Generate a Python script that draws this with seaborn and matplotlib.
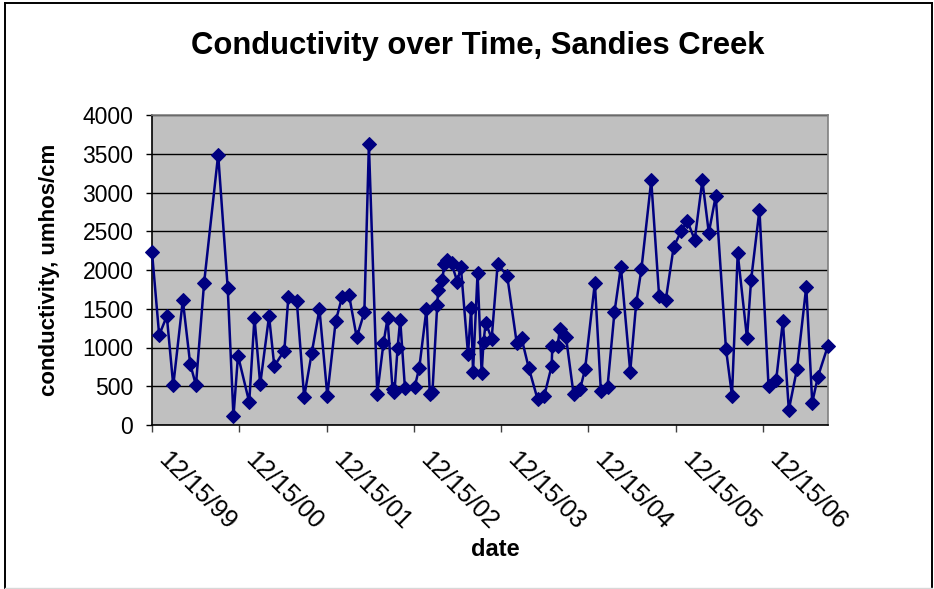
import matplotlib
matplotlib.use("Agg")
import matplotlib.pyplot as plt
import matplotlib.dates as mdates
from matplotlib.transforms import ScaledTranslation
from matplotlib.lines import Line2D
import pandas as pd
import seaborn as sns

# Sampling dates and measured conductivity (umhos/cm)
sample_dates = [
    "1999-12-15", "2000-01-14", "2000-02-15", "2000-03-13", "2000-04-22", "2000-05-23",
    "2000-06-16", "2000-07-20", "2000-09-17", "2000-10-27", "2000-11-20", "2000-12-09",
    "2001-01-25", "2001-02-16", "2001-03-12", "2001-04-18", "2001-05-10", "2001-06-21",
    "2001-07-08", "2001-08-12", "2001-09-12", "2001-10-14", "2001-11-15", "2001-12-18",
    "2002-01-22", "2002-02-18", "2002-03-19", "2002-04-20", "2002-05-22", "2002-06-10",
    "2002-07-15", "2002-08-10", "2002-08-27", "2002-09-17", "2002-09-25", "2002-10-08",
    "2002-10-19", "2002-11-08", "2002-12-19", "2003-01-07", "2003-02-06", "2003-02-20",
    "2003-03-03", "2003-03-23", "2003-03-27", "2003-04-14", "2003-04-21", "2003-05-05",
    "2003-05-22", "2003-06-15", "2003-06-30", "2003-07-30", "2003-08-12", "2003-08-20",
    "2003-09-08", "2003-09-25", "2003-10-03", "2003-10-12", "2003-11-06", "2003-12-01",
    "2004-01-10", "2004-02-19", "2004-03-10", "2004-04-09", "2004-05-16", "2004-06-13",
    "2004-07-14", "2004-07-17", "2004-08-08", "2004-08-18", "2004-09-12", "2004-10-14",
    "2004-11-10", "2004-12-01", "2005-01-11", "2005-02-05", "2005-03-05", "2005-04-03",
    "2005-04-30", "2005-06-08", "2005-07-03", "2005-07-25", "2005-09-04", "2005-10-07",
    "2005-11-04", "2005-12-07", "2006-01-08", "2006-02-02", "2006-03-05", "2006-04-06",
    "2006-05-03", "2006-06-01", "2006-07-14", "2006-08-08", "2006-09-01", "2006-10-10",
    "2006-10-27", "2006-12-01", "2007-01-08", "2007-02-09", "2007-03-09", "2007-04-03",
    "2007-05-07", "2007-06-15", "2007-07-10", "2007-08-03", "2007-09-14",
]
conductivity = [
    2230, 1160, 1405, 510, 1610, 785,
    515, 1830, 3490, 1765, 110, 895,
    295, 1385, 525, 1405, 760, 960,
    1655, 1605, 360, 935, 1495, 380,
    1340, 1655, 1675, 1130, 1455, 3620,
    405, 1055, 1375, 460, 425, 990,
    1360, 475, 495, 740, 1495, 395,
    425, 1545, 1740, 1870, 2075, 2125,
    2085, 1850, 2040, 915, 1510, 690,
    1965, 665, 1075, 1320, 1115, 2075,
    1925, 1055, 1120, 740, 335, 375,
    760, 1025, 1025, 1245, 1140, 395,
    460, 720, 1835, 445, 495, 1455,
    2040, 690, 1570, 2015, 3155, 1665,
    1615, 2300, 2505, 2635, 2390, 3155,
    2480, 2955, 980, 380, 2215, 1120,
    1870, 2775, 505, 580, 1340, 195,
    720, 1785, 290, 625, 1025,
]
tick_dates = ["1999-12-15", "2000-12-15", "2001-12-15", "2002-12-15",
              "2003-12-15", "2004-12-15", "2005-12-15", "2006-12-15"]
y_ticks = [0, 500, 1000, 1500, 2000, 2500, 3000, 3500, 4000]

title = "Conductivity over Time, Sandies Creek"
x_title = "date"
y_title = "conductivity, umhos/cm"

df = pd.DataFrame({"date": pd.to_datetime(sample_dates), "conductivity": conductivity})

plt.rcParams["font.family"] = ["Liberation Sans", "DejaVu Sans"]

W, H = 934, 589
fig = plt.figure(figsize=(W / 100, H / 100), dpi=100)
fig.patch.set_facecolor("white")

# outer chart frame: dark on left, top and right, faint along the bottom
def frame_line(xs, ys, color, lw):
    fig.lines.append(Line2D([x / W for x in xs], [1 - y / H for y in ys],
                            transform=fig.transFigure, color=color, linewidth=lw))

frame_line([5, 5], [588, 2.5], "black", 1.4)
frame_line([5, 931.5], [2.5, 2.5], "black", 1.4)
frame_line([931.5, 931.5], [2.5, 588], "black", 1.4)
frame_line([5, 931.5], [588, 588], "#d8d8d8", 1.0)

ax = fig.add_axes([152 / W, (H - 425) / H, 676 / W, 310 / H])
ax.set_facecolor("#C0C0C0")

navy = "#000080"
sns.lineplot(data=df, x="date", y="conductivity", ax=ax, color=navy, linewidth=1.8,
             marker="D", markersize=7.3, markeredgecolor=navy, markerfacecolor=navy,
             estimator=None, sort=False, clip_on=False, zorder=5)

ax.set_xlim(df["date"].iloc[0], df["date"].iloc[-1])
ax.set_ylim(0, 4000)
ax.set_yticks(y_ticks)
ax.set_xticks(pd.to_datetime(tick_dates))
ax.xaxis.set_major_formatter(mdates.DateFormatter("%m/%d/%y"))

ax.set_axisbelow(True)
ax.yaxis.grid(True, color="black", linewidth=1.0)
ax.xaxis.grid(False)

for side in ("top", "right"):
    ax.spines[side].set_color("#808080")
    ax.spines[side].set_linewidth(1.2)
for side in ("left", "bottom"):
    ax.spines[side].set_color("black")
    ax.spines[side].set_linewidth(1.2)

ax.tick_params(axis="y", direction="out", length=4.5, width=1, color="black",
               pad=9, labelsize=16.5, labelcolor="black")
ax.tick_params(axis="x", direction="out", length=5, width=1, color="#404040",
               pad=0, labelsize=18.3, labelcolor="black")

shift = ScaledTranslation(0.10, -0.245, fig.dpi_scale_trans)
for lab in ax.get_xticklabels():
    lab.set_rotation(-45)
    lab.set_rotation_mode("anchor")
    lab.set_ha("left")
    lab.set_va("center")
    lab.set_transform(lab.get_transform() + shift)

ax.set_xlabel(x_title, fontsize=17, fontweight="bold", va="center")
ax.xaxis.set_label_coords((495 - 152) / 676, (425 - 549) / 310)
ax.set_ylabel(y_title, fontsize=16, fontweight="bold", va="center")
ax.yaxis.set_label_coords((50 - 152) / 676, 0.5)

fig.text(478 / W, 1 - 54 / H, title, ha="center", va="baseline",
         fontsize=22.3, fontweight="bold")

fig.savefig("out.png", dpi=100)
